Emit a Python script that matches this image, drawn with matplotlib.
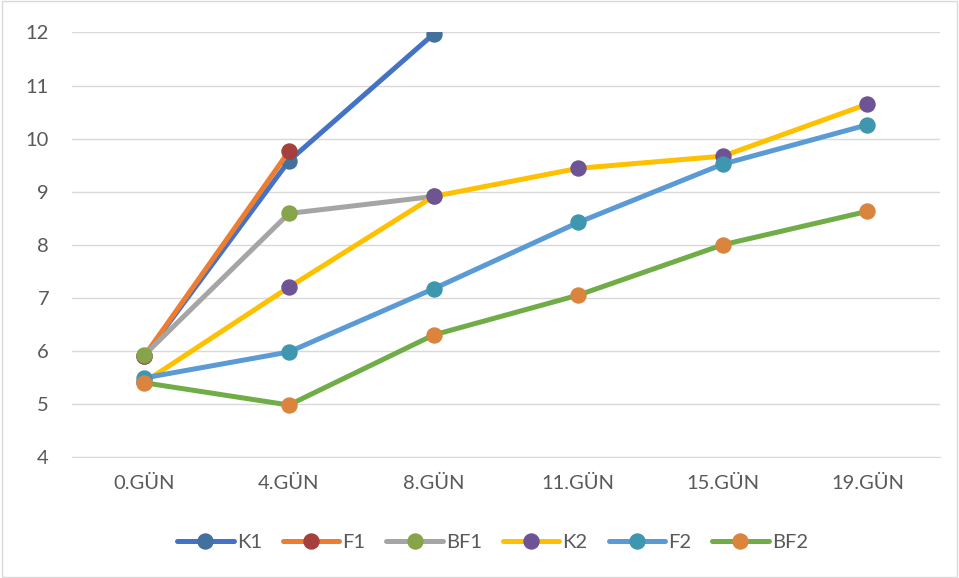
import matplotlib.pyplot as plt
from matplotlib.patches import Rectangle

# Measurement days and series values
days = ["0.GÜN", "4.GÜN", "8.GÜN", "11.GÜN", "15.GÜN", "19.GÜN"]

k1 = [5.90, 9.58, 11.97]
f1 = [5.90, 9.76]
bf1 = [5.92, 8.59, 8.91]
k2 = [5.41, 7.20, 8.91, 9.44, 9.67, 10.65]
f2 = [5.49, 5.98, 7.17, 8.42, 9.52, 10.26]
bf2 = [5.40, 4.98, 6.30, 7.05, 8.00, 8.63]

series = [
    ("K1", k1, "#4472C4", "#41719C"),
    ("F1", f1, "#ED7D31", "#A5403C"),
    ("BF1", bf1, "#A5A5A5", "#86A44A"),
    ("K2", k2, "#FFC000", "#6E5494"),
    ("F2", f2, "#5B9BD5", "#3F97AF"),
    ("BF2", bf2, "#70AD47", "#DB843D"),
]

plt.rcParams['font.family'] = ['Lato', 'DejaVu Sans']
text_color = "#595959"

fig = plt.figure(figsize=(9.59, 5.78), dpi=100)
fig.patches.append(Rectangle((0.002, 0.002), 0.996, 0.996, transform=fig.transFigure,
                             fill=False, edgecolor="#D9D9D9", linewidth=1.0))

ax = fig.add_axes([0.075, 0.2093, 0.905, 0.7345])

x = list(range(len(days)))
for name, vals, lc, mc in series:
    ax.plot(x[:len(vals)], vals, color=lc, linewidth=3.6, marker="o",
            markersize=10.8, markerfacecolor=mc, markeredgecolor=mc,
            label=name, solid_capstyle="round", zorder=3)

ax.set_xlim(-0.5, len(days) - 0.5)
ax.set_ylim(4, 12)
ax.set_yticks(range(4, 13))
ax.set_xticks(x)
ax.set_xticklabels(days)

ax.grid(axis="y", color="#D9D9D9", linewidth=1.0)
ax.set_axisbelow(True)
for side in ["top", "right", "left"]:
    ax.spines[side].set_visible(False)
ax.spines["bottom"].set_color("#D9D9D9")
ax.tick_params(axis="both", length=0, labelsize=14.5, colors=text_color)
ax.tick_params(axis="x", pad=13)
ax.tick_params(axis="y", pad=16.5)

leg = fig.legend(loc="center", bbox_to_anchor=(0.5136, 0.062), ncol=6, frameon=False,
                 fontsize=14.5, handlelength=2.8, columnspacing=1.05, handletextpad=0.15)
for t in leg.get_texts():
    t.set_color(text_color)

fig.savefig("out.png", dpi=100)
